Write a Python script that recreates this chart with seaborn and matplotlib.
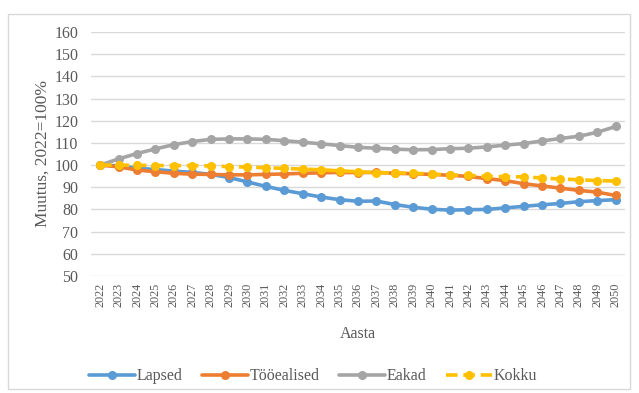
"""Population change by age group, 2022=100%."""

import matplotlib

matplotlib.use("Agg")

import matplotlib.pyplot as plt
import pandas as pd
import seaborn as sns
from matplotlib.lines import Line2D
from matplotlib.patches import Rectangle

YEARS = list(range(2022, 2051))

LAPSED = [100, 99.7, 98.6, 98.0, 97.3, 96.7, 95.8, 94.4, 92.4, 90.4, 88.6, 87.1,
          85.6, 84.4, 83.7, 83.8, 82.2, 81.0, 80.1, 79.7, 79.9, 80.0, 80.7, 81.4,
          82.1, 82.7, 83.5, 84.0, 84.4]
TOOEALISED = [100, 99.2, 97.8, 97.0, 96.3, 95.9, 95.8, 95.6, 95.6, 95.8, 96.0, 96.3,
              96.5, 96.7, 96.6, 96.7, 96.3, 96.1, 95.8, 95.4, 94.9, 93.9, 93.0, 91.6,
              90.6, 89.6, 88.6, 87.8, 86.3]
EAKAD = [100, 102.8, 105.2, 107.3, 109.2, 110.6, 111.6, 111.8, 111.8, 111.6, 111.0, 110.3,
         109.6, 108.8, 108.0, 107.6, 107.2, 106.9, 107.0, 107.4, 107.6, 108.2, 109.0, 109.7,
         110.9, 112.0, 113.0, 114.8, 117.4]
KOKKU = [100, 100, 99.9, 99.8, 99.8, 99.8, 99.6, 99.3, 99.1, 98.8, 98.5, 98.2,
         97.9, 97.4, 97.0, 96.6, 96.5, 96.3, 96.0, 95.5, 95.4, 94.9, 94.8, 94.7,
         94.2, 93.7, 93.4, 93.0, 92.8]

SERIES = {"Lapsed": LAPSED, "Tööealised": TOOEALISED, "Eakad": EAKAD, "Kokku": KOKKU}
COLORS = {"Lapsed": "#5B9BD5", "Tööealised": "#ED7D31", "Eakad": "#A5A5A5", "Kokku": "#FFC000"}
DASH = (0, (3.2, 1.6))

sns.set_theme(style="white")
plt.rcParams["font.family"] = ["Liberation Serif", "DejaVu Serif"]

df = pd.DataFrame({"year": YEARS, **SERIES})
df["pos"] = range(len(YEARS))

fig = plt.figure(figsize=(6.39, 3.93), dpi=100)
ax = fig.add_axes([0.1424, 0.2977, 0.8356, 0.6209])

for name, values in SERIES.items():
    sns.lineplot(
        data=df, x="pos", y=name, ax=ax, color=COLORS[name], linewidth=2.6,
        marker="o", markersize=6.5, markeredgewidth=0,
        linestyle=DASH if name == "Kokku" else "-", zorder=3,
    )

ax.set_xlim(-0.5, len(YEARS) - 0.5)
ax.set_ylim(50, 160)
ax.set_yticks(range(50, 161, 10))
ax.set_xticks(df["pos"])
ax.set_xticklabels([str(y) for y in YEARS], rotation=90, fontsize=8.8, color="#595959")
ax.tick_params(axis="y", labelsize=11.5, colors="#595959", length=0, pad=9)
ax.tick_params(axis="x", length=0, pad=5)
ax.yaxis.grid(True, color="#D9D9D9", linewidth=1)
ax.set_axisbelow(True)
for side in ["top", "right", "left", "bottom"]:
    ax.spines[side].set_visible(False)

ax.set_xlabel("Aasta", fontsize=11.5, color="#595959", labelpad=13)
ax.set_ylabel("Muutus, 2022=100%", fontsize=12.5, color="#595959", labelpad=3)

handles = [
    Line2D([], [], color=COLORS[n], linewidth=2.6, marker="o", markersize=6.5,
           markeredgewidth=0, linestyle=DASH if n == "Kokku" else "-")
    for n in SERIES
]
fig.legend(handles, list(SERIES), loc="center", bbox_to_anchor=(0.49, 0.043), ncol=4,
           frameon=False, fontsize=11.5, handlelength=2.9, handletextpad=0.1,
           columnspacing=1.2, labelcolor="#595959")

fig.patches.append(Rectangle((8 / 639, 4 / 393), 622 / 639, 375 / 393, transform=fig.transFigure,
                             fill=False, edgecolor="#D9D9D9", linewidth=1))

fig.savefig("out.png", dpi=100)
